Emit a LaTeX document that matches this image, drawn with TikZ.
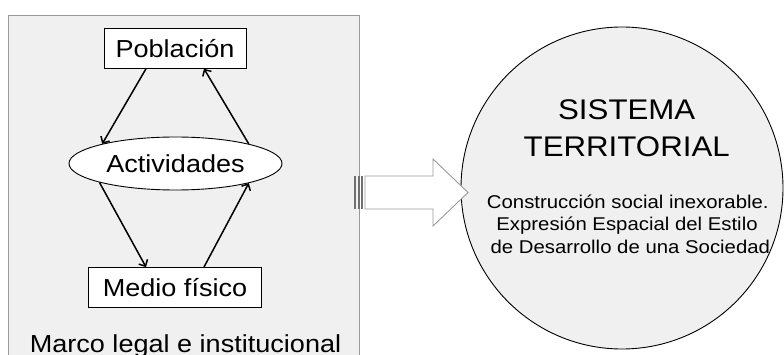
\documentclass[tikz,border=0pt]{standalone}
\usepackage{fontspec}
\setmainfont{Liberation Sans}[FakeStretch=1.1]
\usetikzlibrary{positioning, shapes.geometric, arrows.meta}
\definecolor{hellgrau}{HTML}{F0F0F0}
\definecolor{rahmen}{HTML}{9A9A9A}
\definecolor{streifen}{HTML}{707070}
\tikzset{
    kasten/.style={draw, fill=white, line width=0.9pt, inner sep=0pt,
        minimum height=40pt, text height=18pt, text depth=0pt,
        font=\fontsize{24.6}{30}\selectfont},
    pfeil/.style={-{Straight Barb[length=5pt, width=10pt]}, line width=1.5pt},
    titel/.style={anchor=base, inner sep=0pt, font=\fontsize{28.4}{34}\selectfont},
    klein/.style={anchor=base, inner sep=0pt, font=\fontsize{18.5}{22}\selectfont}
}
\begin{document}
\begin{tikzpicture}[x=1pt, y=-1pt]
        \clip (0,0) rectangle (784,355);
        % Rahmen
        \draw[rahmen, fill=hellgrau, line width=0.8pt] (8,15) rectangle (359,370);
        % Knoten
        \node[kasten, minimum width=142pt] (pob) at (175,48.3) {Población};
        \node[kasten, ellipse, minimum width=213pt, minimum height=53pt] (act) at (175.5,163.5) {Actividades};
        \node[kasten, minimum width=173pt] (med) at (175,287.5) {Medio físico};
        \node[anchor=base, inner sep=0pt, font=\fontsize{24.6}{30}\selectfont] (marco) at (185.5,352) {Marco legal e institucional};
        % Pfeile
        \draw[pfeil] ([xshift=-29pt]pob.south) -- (act.165);
        \draw[pfeil] (act.15) -- ([xshift=29pt]pob.south);
        \draw[pfeil] (act.194) -- ([xshift=-29pt]med.north);
        \draw[pfeil] ([xshift=29pt]med.north) -- (act.-15);
        % Kreis
        \node[draw, circle, fill=hellgrau, line width=0.9pt, minimum size=322pt, inner sep=0pt] (sis) at (622,188) {};
        \node[titel] (t1) at (626.7,119.3) {SISTEMA};
        \node[titel] (t2) at (626.7,156.7) {TERRITORIAL};
        \node[klein] (z1) at (627.8,208.7) {Construcción social inexorable.};
        \node[klein] (z2) at (627,230.7) {Expresión Espacial del Estilo};
        \node[klein] (z3) at (630.3,253.3) {de Desarrollo de una Sociedad};
        % Blockpfeil
        \foreach \x in {354, 357.5, 361}
        {
            \fill[streifen] (\x,176) rectangle ++(2.2,33);
        }
        \draw[rahmen, fill=white, line width=0.9pt]
            (365,176) --
            (433,176) --
            (433,159) --
            (468,192.5) --
            (433,226) --
            (433,209) --
            (365,209) -- cycle;
\end{tikzpicture}
\end{document}
